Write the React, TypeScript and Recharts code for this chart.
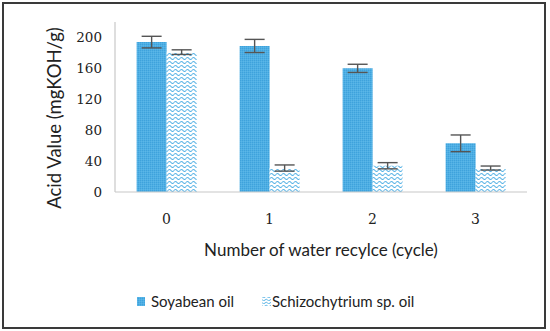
import React from 'react';
import { BarChart, Bar, XAxis, YAxis, ErrorBar, Legend, Label } from 'recharts';

const cycles = ['0', '1', '2', '3'];
const soyabean = [194, 189, 160, 63];
const soyabeanErr = [7.5, 8.5, 5.3, 10.8];
const schizo = [181, 31, 34, 31];
const schizoErr = [3, 4, 4, 2.6];
const yTicks = [0, 40, 80, 120, 160, 200];

const data = cycles.map((c, i) => ({
  cycle: c,
  soy: soyabean[i],
  soyErr: soyabeanErr[i],
  sch: schizo[i],
  schErr: schizoErr[i],
}));

const SANS = 'Lato, "Open Sans", sans-serif';
const SERIF = '"DejaVu Serif", serif';

const LegendContent = () => (
  <svg width={550} height={20}>
    <rect x={137} y={5} width={8} height={9} fill="url(#soyPat)" />
    <text x={151} y={15} fontFamily={SANS} fontSize={15} fill="#222">Soyabean oil</text>
    <rect x={262} y={5} width={9} height={9} fill="url(#schLeg)" />
    <text x={272} y={15} fontFamily={SANS} fontSize={15} fill="#222">Schizochytrium sp. oil</text>
  </svg>
);

const YLabel = () => (
  <text
    transform="translate(61,118) rotate(-90)"
    textAnchor="middle"
    fontFamily={SANS}
    fontSize={18.5}
    fill="#222"
  >
    Acid Value (mgKOH/g)
  </text>
);

export default function App() {
  return (
    <div style={{ position: 'absolute', left: 0, top: 0, width: 550, height: 331, background: '#fff' }}>
      <div style={{ position: 'absolute', left: 2, top: 2, width: 540, height: 323, border: '2px solid #3a3a3a' }} />
      <svg width={0} height={0} style={{ position: 'absolute' }}>
        <defs>
          <pattern id="soyPat" width={2} height={2} patternUnits="userSpaceOnUse">
            <rect width={2} height={2} fill="#4eaee3" />
            <rect width={1} height={1} fill="#3ea2dc" />
            <rect x={1} y={1} width={1} height={1} fill="#5ab6e8" />
          </pattern>
          <pattern id="schLeg" width={5} height={3} patternUnits="userSpaceOnUse">
            <rect width={5} height={3} fill="#ffffff" />
            <path d="M0 2 Q1.25 0.5 2.5 2 T5 2" stroke="#5ab4e6" strokeWidth={1} fill="none" />
          </pattern>
        </defs>
      </svg>
      <BarChart
        width={550}
        height={331}
        data={data}
        margin={{ top: 22, right: 23, left: 0, bottom: 0 }}
        barCategoryGap="21%"
        barGap={0}
        style={{ position: 'absolute', left: 0, top: 0 }}
      >
        <defs>
          <pattern id="soyPat2" width={2} height={2} patternUnits="userSpaceOnUse">
            <rect width={2} height={2} fill="#4eaee3" />
            <rect width={1} height={1} fill="#3ea2dc" />
            <rect x={1} y={1} width={1} height={1} fill="#5ab6e8" />
          </pattern>
          <pattern id="schPat" width={6} height={4} patternUnits="userSpaceOnUse">
            <rect width={6} height={4} fill="#ffffff" />
            <path d="M0 2.5 Q1.5 0.5 3 2.5 T6 2.5" stroke="#5ab4e6" strokeWidth={1.1} fill="none" />
          </pattern>
        </defs>
        <XAxis
          dataKey="cycle"
          height={139}
          tickLine={false}
          tickSize={0}
          tickMargin={22}
          axisLine={{ stroke: '#c8c8c8', strokeWidth: 1.2 }}
          tick={{ fontFamily: SERIF, fontSize: 14, fill: '#222' }}
        >
          <Label
            value="Number of water recylce (cycle)"
            position="insideTop"
            offset={52}
            style={{ fontFamily: SANS, fontSize: 17, fill: '#222' }}
          />
        </XAxis>
        <YAxis
          width={115}
          domain={[0, 220]}
          ticks={yTicks}
          interval={0}
          tickLine={false}
          tickSize={0}
          tickMargin={13}
          axisLine={{ stroke: '#c8c8c8', strokeWidth: 1.2 }}
          tick={{ fontFamily: SERIF, fontSize: 13.5, fill: '#222' }}
        >
          <Label content={YLabel} />
        </YAxis>
        <Legend verticalAlign="middle" wrapperStyle={{ top: 292, left: 0, width: 550 }} content={LegendContent} />
        <Bar dataKey="soy" name="Soyabean oil" fill="url(#soyPat2)" isAnimationActive={false}>
          <ErrorBar dataKey="soyErr" width={10} stroke="#555" strokeWidth={1.4} direction="y" />
        </Bar>
        <Bar dataKey="sch" name="Schizochytrium sp. oil" fill="url(#schPat)" isAnimationActive={false}>
          <ErrorBar dataKey="schErr" width={10} stroke="#555" strokeWidth={1.4} direction="y" />
        </Bar>
      </BarChart>
    </div>
  );
}
